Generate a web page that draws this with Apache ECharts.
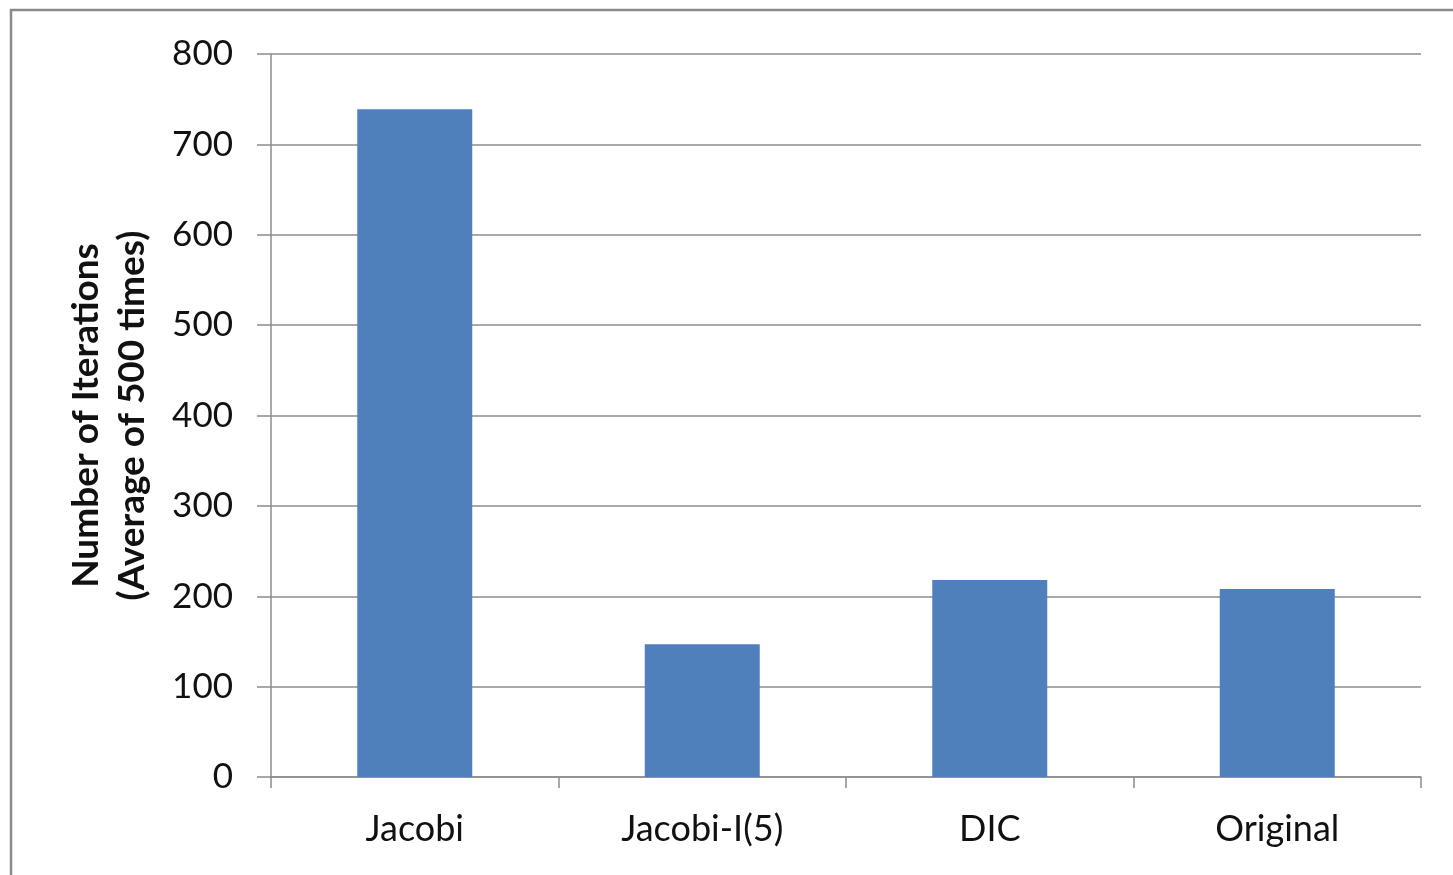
<!DOCTYPE html>
<html>
<head>
<meta charset="utf-8">
<script src="https://cdn.jsdelivr.net/npm/echarts@6/dist/echarts.min.js"></script>
<style>
  html, body { margin: 0; padding: 0; background: #fff; }
  #chart { width: 1453px; height: 875px; }
</style>
</head>
<body>
<div id="chart"></div>
<script>
// data
const categories = ['Jacobi', 'Jacobi-I(5)', 'DIC', 'Original']
const iterations = [739, 147, 218, 208]
const yTicks = { min: 0, max: 800, interval: 100 }

const font = 'Lato, "Open Sans", sans-serif'
const gray = '#8c8c8c'

const chart = echarts.init(document.getElementById('chart'))
const option = {
  backgroundColor: '#fff',
  animation: false,
  graphic: [{
    type: 'rect',
    shape: { x: 11, y: 10, width: 1500, height: 900 },
    style: { fill: 'none', stroke: '#8a8a8a', lineWidth: 2.5 },
    silent: true
  }],
  grid: { left: 271, top: 54, right: 32, bottom: 98 },
  xAxis: {
    type: 'category',
    data: categories,
    axisLine: { lineStyle: { color: gray, width: 1.5 } },
    axisTick: { show: true, length: 11, lineStyle: { color: gray, width: 1.5 } },
    axisLabel: { color: '#111', fontSize: 36, fontFamily: font, margin: 34 }
  },
  yAxis: {
    type: 'value',
    min: yTicks.min,
    max: yTicks.max,
    interval: yTicks.interval,
    name: 'Number of Iterations\n(Average of 500 times)',
    nameLocation: 'middle',
    nameGap: 116,
    nameTextStyle: { color: '#111', fontSize: 37, fontWeight: 'bold', fontFamily: font, lineHeight: 46 },
    axisLine: { show: true, lineStyle: { color: gray, width: 1.5 } },
    axisTick: { show: true, length: 14, lineStyle: { color: gray, width: 1.5 } },
    axisLabel: { color: '#111', fontSize: 35, fontFamily: font, margin: 38 },
    splitLine: { lineStyle: { color: gray, width: 1.5 } }
  },
  series: [{
    type: 'bar',
    data: iterations,
    barWidth: '40%',
    itemStyle: { color: '#4f80bc' }
  }]
}
chart.setOption(option)
window.addEventListener('resize', () => chart.resize())
</script>
</body>
</html>
